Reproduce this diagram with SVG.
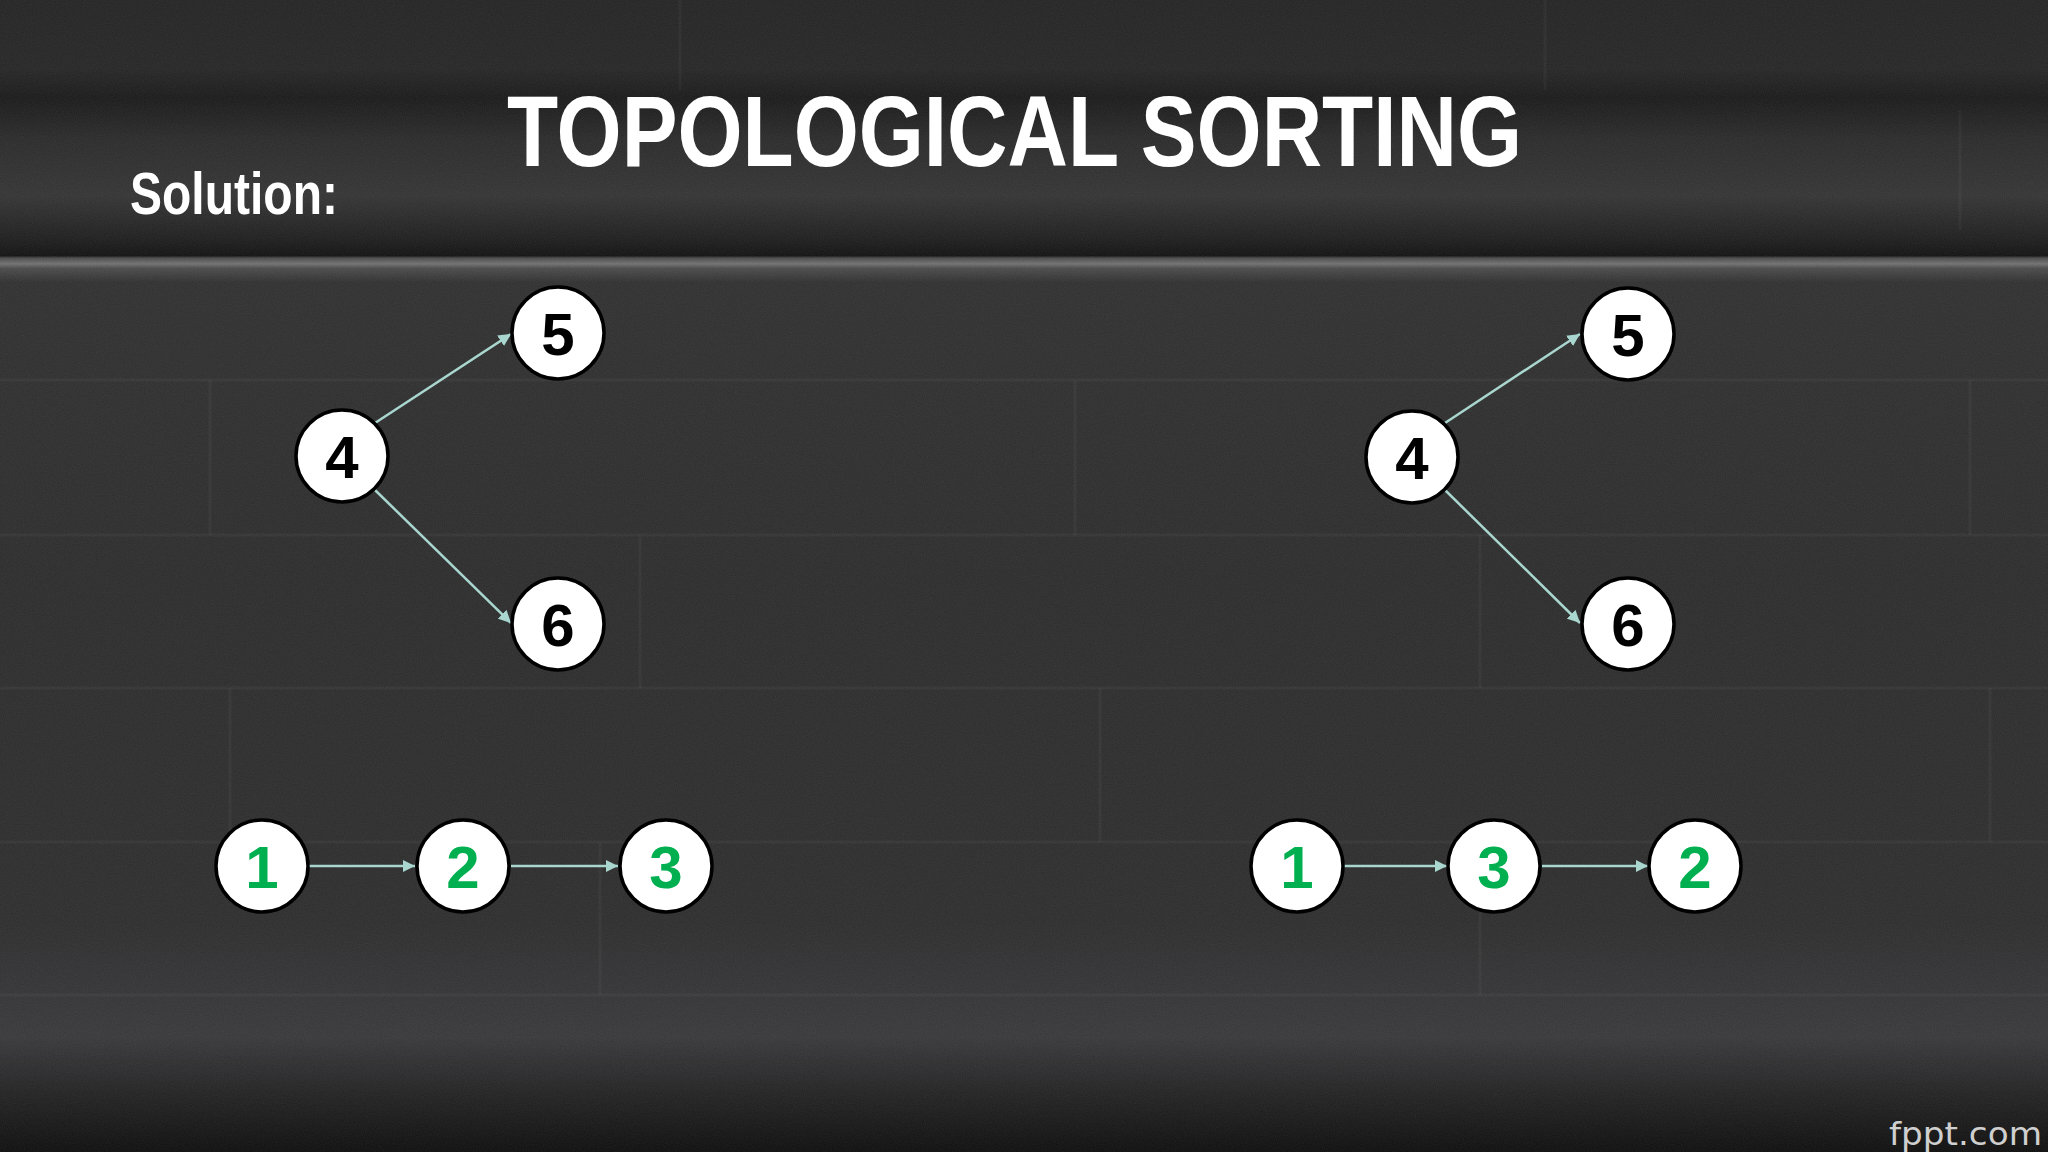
<svg xmlns="http://www.w3.org/2000/svg" width="2048" height="1152" viewBox="0 0 2048 1152">
  <defs>
    <linearGradient id="bg" x1="0" y1="0" x2="0" y2="1">
      <stop offset="0" stop-color="#242424"/>
      <stop offset="0.06" stop-color="#262626"/>
      <stop offset="0.085" stop-color="#1a1a1a"/>
      <stop offset="0.12" stop-color="#2a2a2a"/>
      <stop offset="0.17" stop-color="#343434"/>
      <stop offset="0.205" stop-color="#202020"/>
      <stop offset="0.222" stop-color="#121212"/>
      <stop offset="0.224" stop-color="#4a4a4a"/>
      <stop offset="0.229" stop-color="#707070"/>
      <stop offset="0.233" stop-color="#4a4a4a"/>
      <stop offset="0.245" stop-color="#303030"/>
      <stop offset="0.5" stop-color="#2c2c2d"/>
      <stop offset="0.8" stop-color="#2d2d2e"/>
      <stop offset="0.9" stop-color="#38383a"/>
      <stop offset="0.95" stop-color="#222223"/>
      <stop offset="1" stop-color="#0e0e0e"/>
    </linearGradient>
    <filter id="noise" x="0" y="0" width="100%" height="100%">
      <feTurbulence type="fractalNoise" baseFrequency="0.9" numOctaves="2" seed="3"/>
      <feColorMatrix type="matrix" values="0 0 0 0 1  0 0 0 0 1  0 0 0 0 1  0 0 0 0.12 0"/>
    </filter>
    <marker id="ah" viewBox="0 0 10 10" refX="10" refY="5" markerWidth="5" markerHeight="5" orient="auto" markerUnits="strokeWidth">
      <path d="M0,0 L10,5 L0,10 z" fill="#a9d6cf"/>
    </marker>
    <style>
      .node circle { fill: #ffffff; stroke: #000000; stroke-width: 3.5; }
      .node text { font-family: "Liberation Sans", Arial, sans-serif; font-weight: bold; font-size: 60px; text-anchor: middle; }
      .blk { fill: #000000; }
      .grn { fill: #00b050; }
      .edge { stroke: #a9d6cf; stroke-width: 2.5; fill: none; marker-end: url(#ah); }
      .brick { stroke: #ffffff; stroke-opacity: 0.035; stroke-width: 3; }
    </style>
  </defs>

  <!-- background -->
  <rect x="0" y="0" width="2048" height="1152" fill="url(#bg)"/>
  <rect x="0" y="0" width="2048" height="1152" filter="url(#noise)" opacity="0.6"/>
  <g class="brick">
    <line x1="0" y1="380" x2="2048" y2="380"/>
    <line x1="0" y1="535" x2="2048" y2="535"/>
    <line x1="0" y1="688" x2="2048" y2="688"/>
    <line x1="0" y1="842" x2="2048" y2="842"/>
    <line x1="0" y1="995" x2="2048" y2="995"/>
    <line x1="210" y1="380" x2="210" y2="535"/>
    <line x1="1075" y1="380" x2="1075" y2="535"/>
    <line x1="1970" y1="380" x2="1970" y2="535"/>
    <line x1="640" y1="535" x2="640" y2="688"/>
    <line x1="1480" y1="535" x2="1480" y2="688"/>
    <line x1="230" y1="688" x2="230" y2="842"/>
    <line x1="1100" y1="688" x2="1100" y2="842"/>
    <line x1="1990" y1="688" x2="1990" y2="842"/>
    <line x1="600" y1="842" x2="600" y2="995"/>
    <line x1="1480" y1="842" x2="1480" y2="995"/>
    <line x1="680" y1="0" x2="680" y2="90"/>
    <line x1="1545" y1="0" x2="1545" y2="90"/>
    <line x1="1960" y1="110" x2="1960" y2="230"/>
  </g>

  <!-- titles -->
  <text x="507" y="166" font-family="'Liberation Sans', Arial, sans-serif" font-weight="bold" font-size="100" fill="#ffffff" textLength="1015" lengthAdjust="spacingAndGlyphs">TOPOLOGICAL SORTING</text>
  <text x="130" y="214" font-family="'Liberation Sans', Arial, sans-serif" font-weight="bold" font-size="60" fill="#ffffff" textLength="208" lengthAdjust="spacingAndGlyphs">Solution:</text>
  <text x="1889" y="1145" font-family="'DejaVu Sans', sans-serif" font-size="32" fill="#cfcfcf" textLength="153" lengthAdjust="spacingAndGlyphs">fppt.com</text>

  <!-- connectors -->
  <g id="connectors">
    <line class="edge" x1="375" y1="423" x2="511" y2="334"/>
    <line class="edge" x1="375" y1="490" x2="511" y2="623"/>
    <line class="edge" x1="1445" y1="423" x2="1580" y2="334"/>
    <line class="edge" x1="1445" y1="490" x2="1580" y2="623"/>
    <line class="edge" x1="309" y1="866" x2="415" y2="866"/>
    <line class="edge" x1="511" y1="866" x2="618" y2="866"/>
    <line class="edge" x1="1343" y1="866" x2="1447" y2="866"/>
    <line class="edge" x1="1542" y1="866" x2="1648" y2="866"/>
  </g>

  <!-- left graph -->
  <g id="nodeL4" class="node"><circle cx="342" cy="456" r="46"/><text class="blk" x="342" y="478">4</text></g>
  <g id="nodeL5" class="node"><circle cx="558" cy="333" r="46"/><text class="blk" x="558" y="355">5</text></g>
  <g id="nodeL6" class="node"><circle cx="558" cy="624" r="46"/><text class="blk" x="558" y="646">6</text></g>
  <g id="nodeL1" class="node"><circle cx="262" cy="866" r="46"/><text class="grn" x="262" y="888">1</text></g>
  <g id="nodeL2" class="node"><circle cx="463" cy="866" r="46"/><text class="grn" x="463" y="888">2</text></g>
  <g id="nodeL3" class="node"><circle cx="666" cy="866" r="46"/><text class="grn" x="666" y="888">3</text></g>

  <!-- right graph -->
  <g id="nodeR4" class="node"><circle cx="1412" cy="457" r="46"/><text class="blk" x="1412" y="479">4</text></g>
  <g id="nodeR5" class="node"><circle cx="1628" cy="334" r="46"/><text class="blk" x="1628" y="356">5</text></g>
  <g id="nodeR6" class="node"><circle cx="1628" cy="624" r="46"/><text class="blk" x="1628" y="646">6</text></g>
  <g id="nodeR1" class="node"><circle cx="1297" cy="866" r="46"/><text class="grn" x="1297" y="888">1</text></g>
  <g id="nodeR3" class="node"><circle cx="1494" cy="866" r="46"/><text class="grn" x="1494" y="888">3</text></g>
  <g id="nodeR2" class="node"><circle cx="1695" cy="866" r="46"/><text class="grn" x="1695" y="888">2</text></g>
</svg>
